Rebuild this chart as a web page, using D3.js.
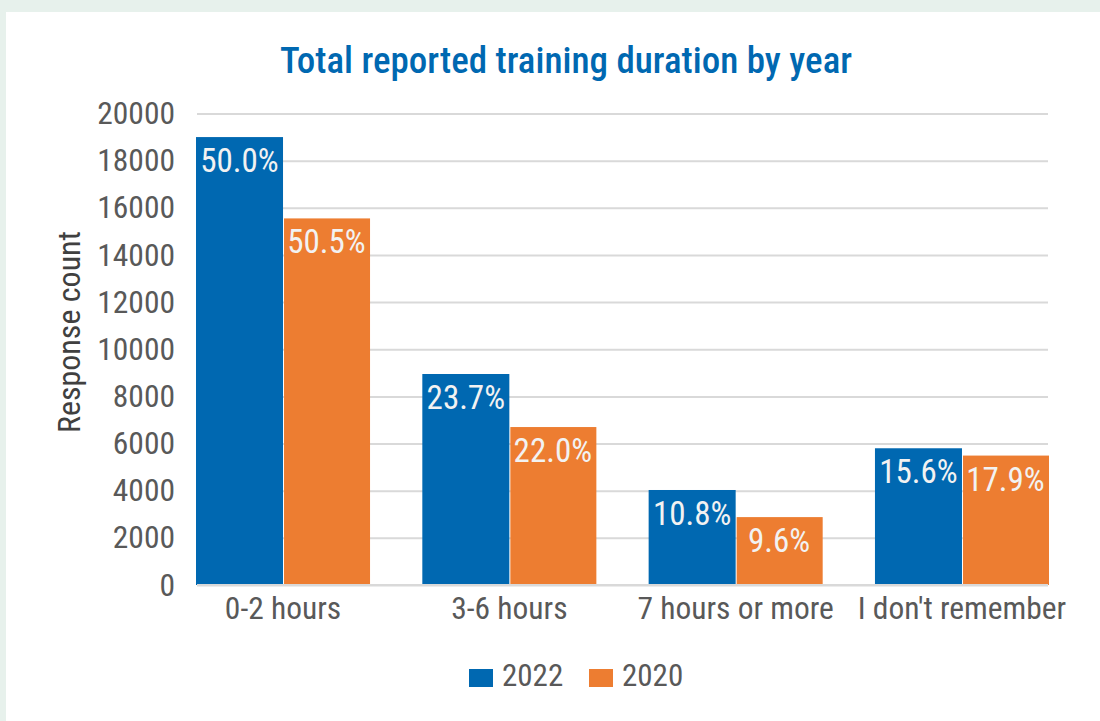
<!DOCTYPE html>
<html><head><meta charset="utf-8">
<script src="https://cdn.jsdelivr.net/npm/d3@7"></script>
<style>
html,body{margin:0;padding:0;background:#e7f1ec;}
svg{display:block;}
</style></head>
<body>
<script>
const categories = ["0-2 hours", "3-6 hours", "7 hours or more", "I don't remember"];
const seriesNames = ["2022", "2020"];
const values2022 = [19000, 8950, 4030, 5800];
const values2020 = [15550, 6700, 2880, 5490];
const labels2022 = ["50.0%", "23.7%", "10.8%", "15.6%"];
const labels2020 = ["50.5%", "22.0%", "9.6%", "17.9%"];
const yTicks = [0, 2000, 4000, 6000, 8000, 10000, 12000, 14000, 16000, 18000, 20000];

const colors = {"2022": "#0068b1", "2020": "#ed7d31"};
const FONT = "'Liberation Sans Narrow', 'Arial Narrow', 'Roboto Condensed', sans-serif";
const W = 1100, H = 721;

const svg = d3.select("body").append("svg").attr("width", W).attr("height", H);
svg.append("rect").attr("x", 0).attr("y", 0).attr("width", W).attr("height", H).attr("fill", "#e7f1ec");
svg.append("rect").attr("x", 6).attr("y", 12).attr("width", W - 6).attr("height", H - 12).attr("fill", "#ffffff");

const pLeft = 197, pRight = 1048, pTop = 113.5, pBottom = 585;

const x0 = d3.scaleBand().domain(categories).range([196, 1049]).paddingInner(0.231).paddingOuter(0);
const x1 = d3.scaleBand().domain(seriesNames).range([0, x0.bandwidth()]).padding(0);
const y = d3.scaleLinear().domain([0, 20000]).range([pBottom, pTop]);

// gridlines
const grid = svg.append("g").attr("transform", `translate(${pLeft},0)`)
  .call(d3.axisLeft(y).tickValues(yTicks).tickSize(-(pRight - pLeft)).tickFormat(""));
grid.select(".domain").remove();
grid.selectAll("line").attr("stroke", "#d9d9d9").attr("stroke-width", 2);

// y tick labels
const yAxis = svg.append("g").attr("transform", `translate(${pLeft},0)`)
  .call(d3.axisLeft(y).tickValues(yTicks).tickSize(0).tickPadding(22).tickFormat(d3.format("d")));
yAxis.select(".domain").remove();
yAxis.selectAll("text").attr("fill", "#595959").style("font-family", FONT).style("font-size", "31.5px");

const data = categories.map((c, i) => ({
  cat: c,
  items: [
    {s: "2022", v: values2022[i], l: labels2022[i]},
    {s: "2020", v: values2020[i], l: labels2020[i]}
  ]
}));

const groups = svg.append("g").selectAll("g").data(data).join("g")
  .attr("transform", d => `translate(${x0(d.cat)},0)`);
groups.selectAll("rect").data(d => d.items).join("rect")
  .attr("x", d => x1(d.s) + (d.s === "2020" ? 1 : 0))
  .attr("y", d => y(d.v))
  .attr("width", d => x1.bandwidth() - (d.s === "2020" ? 1 : 0))
  .attr("height", d => y(0) - y(d.v))
  .attr("fill", d => colors[d.s]);
groups.selectAll("text").data(d => d.items).join("text")
  .attr("x", d => x1(d.s) + x1.bandwidth() / 2)
  .attr("y", d => y(d.v) + 35)
  .attr("text-anchor", "middle")
  .attr("fill", "#f2f2f2")
  .style("font-family", FONT).style("font-size", "33px")
  .text(d => d.l);

// x axis baseline
svg.append("line").attr("x1", pLeft).attr("x2", pRight).attr("y1", y(0)).attr("y2", y(0))
  .attr("stroke", "#d9d9d9").attr("stroke-width", 2);

// x axis labels
const xAxis = svg.append("g").attr("transform", `translate(0,${pBottom})`)
  .call(d3.axisBottom(x0).tickSize(0).tickPadding(12));
xAxis.select(".domain").remove();
xAxis.selectAll("text").attr("fill", "#595959").style("font-family", FONT).style("font-size", "31.5px");

// title
svg.append("text").attr("x", 566).attr("y", 73).attr("text-anchor", "middle")
  .attr("fill", "#0068b1").style("font-family", FONT).style("font-size", "37px").style("font-weight", "500")
  .text("Total reported training duration by year");

// y axis title
svg.append("text").attr("transform", `translate(80,332) rotate(-90)`).attr("text-anchor", "middle")
  .attr("fill", "#404040").style("font-family", FONT).style("font-size", "32px")
  .text("Response count");

// legend
const legendItems = [{s: "2022", x: 469}, {s: "2020", x: 589}];
const lg = svg.append("g").selectAll("g").data(legendItems).join("g")
  .attr("transform", d => `translate(${d.x},669)`);
lg.append("rect").attr("width", 24).attr("height", 18).attr("fill", d => colors[d.s]);
lg.append("text").attr("x", 33).attr("y", 17).attr("fill", "#595959")
  .style("font-family", FONT).style("font-size", "31px").text(d => d.s);
</script>
</body></html>
